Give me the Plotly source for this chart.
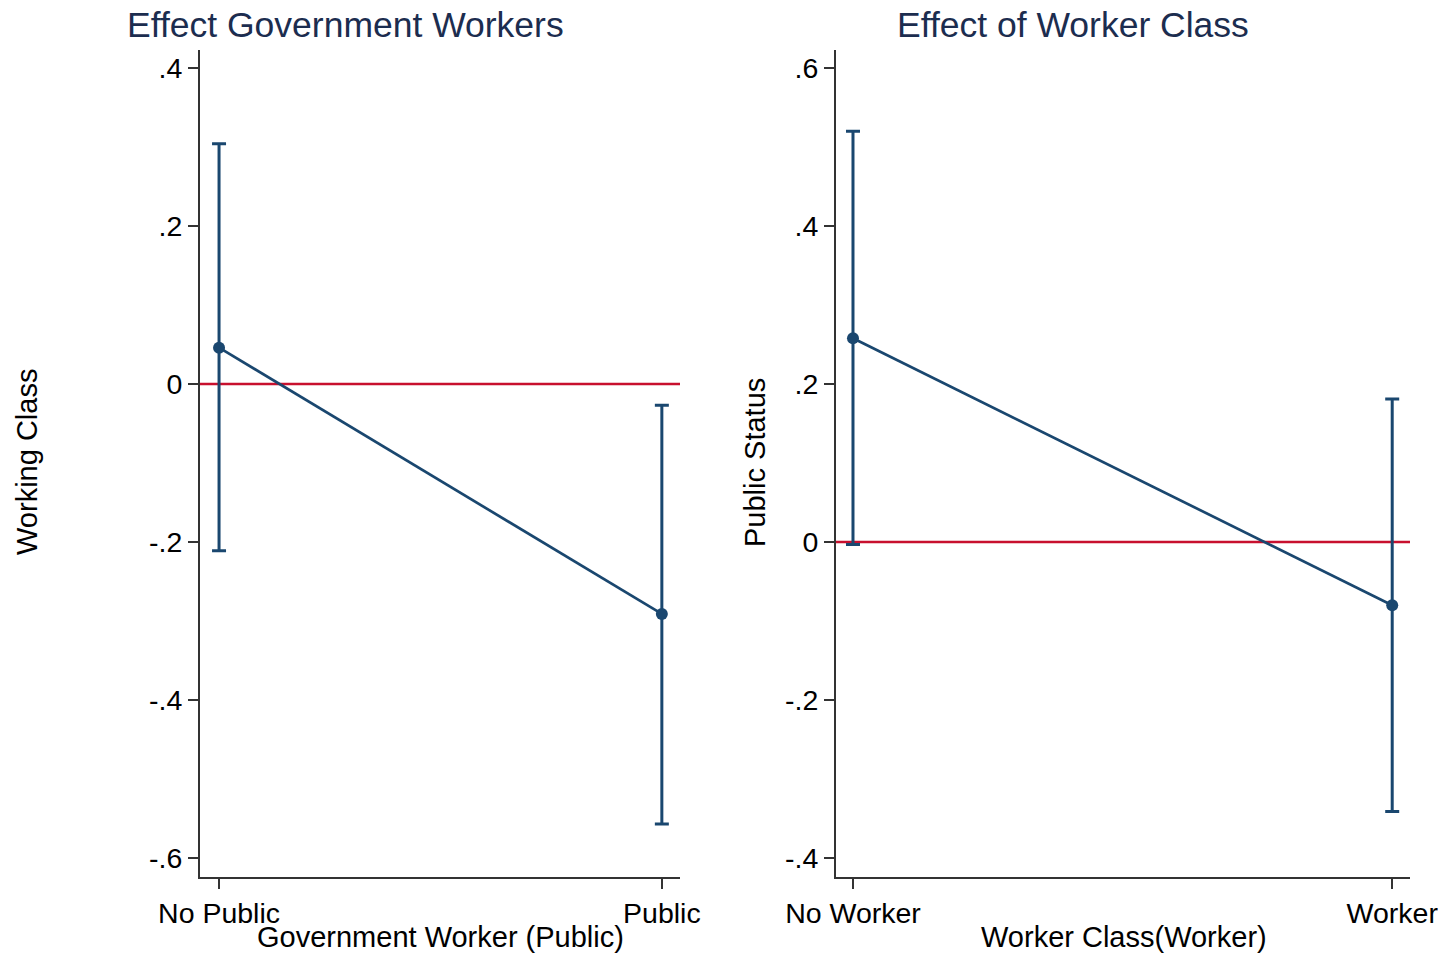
import plotly.graph_objects as go

# Marginal effects with 95% confidence intervals
left_categories = ["No Public", "Public"]
left_effect = [0.046, -0.291]
left_ci_low = [-0.211, -0.557]
left_ci_high = [0.304, -0.027]

right_categories = ["No Worker", "Worker"]
right_effect = [0.258, -0.080]
right_ci_low = [-0.003, -0.341]
right_ci_high = [0.520, 0.181]

left_yticks = [0.4, 0.2, 0, -0.2, -0.4, -0.6]
left_ytext = [".4", ".2", "0", "-.2", "-.4", "-.6"]
right_yticks = [0.6, 0.4, 0.2, 0, -0.2, -0.4]
right_ytext = [".6", ".4", ".2", "0", "-.2", "-.4"]

NAVY = "#1a476f"
RED = "#c8102e"
AXIS = "#333333"
FONT = "Liberation Sans, Arial, sans-serif"
W, H = 1451, 958


def add_panel(fig, cats, eff, lo, hi, xa, ya):
    xs = list(range(len(cats)))
    fig.add_trace(go.Scatter(
        x=xs, y=eff, mode="lines+markers",
        line=dict(color=NAVY, width=2.7),
        marker=dict(color=NAVY, size=12),
        error_y=dict(type="data", symmetric=False,
                     array=[h - e for h, e in zip(hi, eff)],
                     arrayminus=[e - l for e, l in zip(eff, lo)],
                     color=NAVY, thickness=3, width=7),
        xaxis=xa, yaxis=ya, showlegend=False, cliponaxis=False,
    ))
    # reference line at zero across the plot region
    fig.add_shape(type="line", xref=f"{xa} domain", yref=ya,
                  x0=0, x1=1, y0=0, y1=0,
                  line=dict(color=RED, width=2.5), layer="below")


fig = go.Figure()
add_panel(fig, left_categories, left_effect, left_ci_low, left_ci_high, "x", "y")
add_panel(fig, right_categories, right_effect, right_ci_low, right_ci_high, "x2", "y2")

ydom = [1 - 877 / H, 1 - 50 / H]
common = dict(showgrid=False, zeroline=False, showline=True, linecolor=AXIS,
              linewidth=2, ticks="outside", ticklen=10, tickwidth=1.5,
              tickcolor=AXIS, automargin=False,
              tickfont=dict(size=28.5, color="black", family=FONT))

fig.update_layout(
    width=W, height=H,
    margin=dict(l=0, r=0, t=0, b=0, autoexpand=False),
    paper_bgcolor="white", plot_bgcolor="white",
    font=dict(family=FONT, color="black"),
    xaxis=dict(domain=[200 / W, 680 / W], range=[-0.043, 1.041],
               tickvals=[0, 1], ticktext=left_categories, anchor="y", **common),
    yaxis=dict(domain=ydom, range=[-0.624, 0.4228],
               tickvals=left_yticks, ticktext=left_ytext, anchor="x", **common),
    xaxis2=dict(domain=[836 / W, 1410 / W], range=[-0.0315, 1.033],
                tickvals=[0, 1], ticktext=right_categories, anchor="y2", **common),
    yaxis2=dict(domain=ydom, range=[-0.424, 0.6228],
                tickvals=right_yticks, ticktext=right_ytext, anchor="x2", **common),
)

TITLE_COLOR = "#1c2d4f"
notes = [
    dict(text="Effect Government Workers", x=345, y=25, size=35.5, color=TITLE_COLOR, angle=0),
    dict(text="Effect of Worker Class", x=1073, y=25, size=35.5, color=TITLE_COLOR, angle=0),
    dict(text="Government Worker (Public)", x=441, y=937, size=29, color="black", angle=0),
    dict(text="Worker Class(Worker)", x=1124, y=937, size=29, color="black", angle=0),
    dict(text="Working Class", x=27, y=462, size=29, color="black", angle=-90),
    dict(text="Public Status", x=755, y=462, size=29, color="black", angle=-90),
]
for n in notes:
    fig.add_annotation(text=n["text"], xref="paper", yref="paper",
                       x=n["x"] / W, y=1 - n["y"] / H,
                       xanchor="center", yanchor="middle", showarrow=False,
                       textangle=n["angle"],
                       font=dict(size=n["size"], color=n["color"], family=FONT))

fig.write_html("out.html")
